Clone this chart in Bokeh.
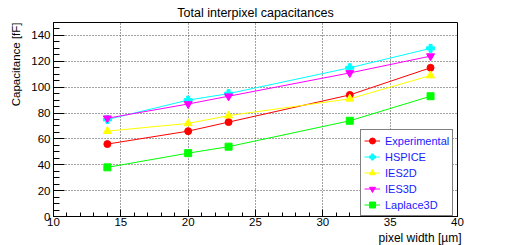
from bokeh.plotting import figure
from bokeh.models import (Range1d, SingleIntervalTicker, Legend, LegendItem, Title)
from bokeh.embed import file_html
from bokeh.resources import INLINE

pixel_width = [14, 20, 23, 32, 38]
experimental = [56, 66, 73, 94, 115]
hspice = [75, 90, 95, 115, 130]
ies2d = [66, 72, 78, 91, 109]
ies3d = [76, 87, 93, 111, 124]
laplace3d = [38, 49, 54, 74, 93]

series = [
    ("Experimental", experimental, "#ff0000", "circle", 7),
    ("HSPICE", hspice, "#00ffff", "plus", 8),
    ("IES2D", ies2d, "#ffff00", "triangle", 8),
    ("IES3D", ies3d, "#ff00ff", "inverted_triangle", 8),
    ("Laplace3D", laplace3d, "#00ff00", "square", 7),
]

FONT = "Liberation Sans"

p = figure(width=508, height=245, output_backend="svg", toolbar_location=None,
           x_range=Range1d(10, 40), y_range=Range1d(0, 150),
           min_border_left=51, min_border_right=51, min_border_top=22,
           min_border_bottom=28)
p.outline_line_color = "black"
p.outline_line_width = 1
p.background_fill_color = "white"
p.border_fill_color = "white"

p.xaxis.ticker = SingleIntervalTicker(interval=5, num_minor_ticks=5)
p.yaxis.ticker = SingleIntervalTicker(interval=20, num_minor_ticks=4)
for ax in (p.xaxis[0], p.yaxis[0]):
    ax.major_tick_out = 0
    ax.minor_tick_out = 0
    ax.axis_line_color = "black"
    ax.major_tick_line_color = "black"
    ax.minor_tick_line_color = "black"
    ax.major_label_text_font = FONT
    ax.major_label_text_font_size = "11.5px"
    ax.major_label_text_color = "black"
p.yaxis.major_tick_in = 11
p.yaxis.minor_tick_in = 6
p.xaxis.major_tick_in = 7
p.xaxis.minor_tick_in = 4
p.yaxis.major_label_standoff = 3
p.xaxis.major_label_standoff = 1

p.grid.grid_line_color = "#444444"
p.grid.grid_line_dash = "1 2"
p.grid.grid_line_width = 1

items = []
for name, vals, color, marker, size in series:
    ln = p.line(pixel_width, vals, line_color=color, line_width=1)
    sc = p.scatter(pixel_width, vals, marker=marker, size=size,
                   fill_color=color, line_color=color)
    items.append(LegendItem(label=name, renderers=[ln, sc]))

legend = Legend(items=items, location=(307, 0))
legend.label_text_font = FONT
legend.label_text_font_size = "11px"
legend.label_text_color = "#1a1aff"
legend.border_line_color = "black"
legend.border_line_width = 1
legend.background_fill_color = "white"
legend.background_fill_alpha = 1
legend.padding = 3
legend.spacing = 1
legend.margin = 0
legend.glyph_width = 16
legend.glyph_height = 15
legend.label_height = 15
legend.label_standoff = 5
p.add_layout(legend, "center")

p.title.text = "Total interpixel capacitances"
p.title.text_font = FONT
p.title.text_font_size = "12.5px"
p.title.text_font_style = "normal"
p.title.align = "center"
p.title.standoff = 5
p.title.text_color = "black"

xtitle = Title(text="pixel width [\u00b5m]", align="right", offset=-4,
               standoff=1, text_font=FONT, text_font_size="12px",
               text_font_style="normal", text_color="black")
ytitle = Title(text="Capacitance [fF]", align="right", standoff=14,
               text_font=FONT, text_font_size="11.5px",
               text_font_style="normal", text_color="black")
p.add_layout(xtitle, "below")
p.add_layout(ytitle, "left")

open("out.html", "w").write(file_html(p, INLINE))
